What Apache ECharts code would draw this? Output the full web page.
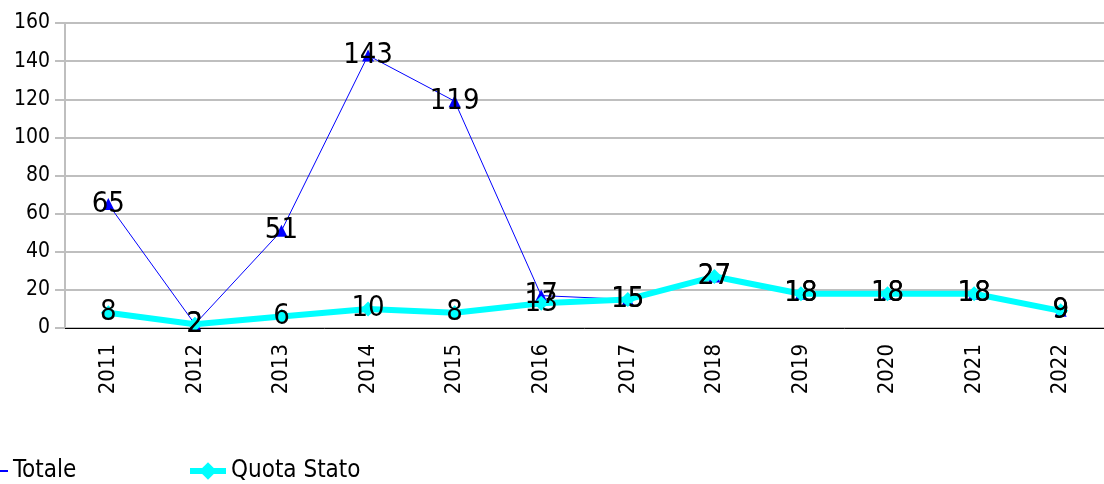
<!DOCTYPE html>
<html lang="it">
<head>
<meta charset="utf-8" />
<title>Totale / Quota Stato</title>
</head>
<body style="margin:0">
<div id="main" style="width:1104px;height:484px"></div>
<script src="https://cdn.jsdelivr.net/npm/echarts@6/dist/echarts.min.js"></script>
<script>
var anni = ['2011', '2012', '2013', '2014', '2015', '2016', '2017', '2018', '2019', '2020', '2021', '2022'];
var totale = [65, 2, 51, 143, 119, 17, 15, 27, 18, 18, 18, 9];
var quotaStato = [8, 2, 6, 10, 8, 13, 15, 27, 18, 18, 18, 9];
var yTicks = [0, 20, 40, 60, 80, 100, 120, 140, 160];

var font = "'DejaVu Sans Condensed', 'Liberation Sans', sans-serif";
var chart = echarts.init(document.getElementById('main'));

var label = {
  show: true,
  position: 'inside',
  color: '#000',
  fontFamily: font,
  fontSize: 29
};

chart.setOption({
  animation: false,
  grid: { left: 65, right: 0, top: 23, bottom: 156 },
  legend: [
    {
      data: ['Totale'],
      left: -43,
      top: 459,
      padding: 0,
      itemWidth: 50,
      itemHeight: 22,
      textStyle: { fontFamily: font, fontSize: 24, color: '#000' }
    },
    {
      data: ['Quota Stato'],
      left: 187,
      top: 459,
      padding: 0,
      itemWidth: 36,
      itemHeight: 22,
      lineStyle: { width: 6 },
      textStyle: { fontFamily: font, fontSize: 24, color: '#000' }
    }
  ],
  xAxis: {
    type: 'category',
    data: anni,
    boundaryGap: true,
    axisLine: { lineStyle: { color: '#000', width: 1 } },
    axisTick: { length: 12, lineStyle: { color: '#000' } },
    axisLabel: { rotate: 90, margin: 16, fontFamily: font, fontSize: 22, color: '#000' }
  },
  yAxis: {
    type: 'value',
    min: yTicks[0],
    max: yTicks[yTicks.length - 1],
    interval: 20,
    axisLine: { show: true, lineStyle: { color: '#bfbfbf', width: 2 } },
    axisTick: { show: true, length: 10, lineStyle: { color: '#bfbfbf', width: 2 } },
    splitLine: { lineStyle: { color: '#bfbfbf', width: 2 } },
    axisLabel: { margin: 15, fontFamily: font, fontSize: 21, color: '#000' }
  },
  series: [
    {
      name: 'Totale',
      type: 'line',
      data: totale,
      symbol: 'triangle',
      symbolSize: 12,
      color: '#0000ff',
      lineStyle: { color: '#0000ff', width: 1 },
      label: label
    },
    {
      name: 'Quota Stato',
      type: 'line',
      data: quotaStato,
      symbol: 'diamond',
      symbolSize: 15,
      color: '#00ffff',
      lineStyle: { color: '#00ffff', width: 6 },
      label: label
    }
  ]
});
</script>
</body>
</html>
